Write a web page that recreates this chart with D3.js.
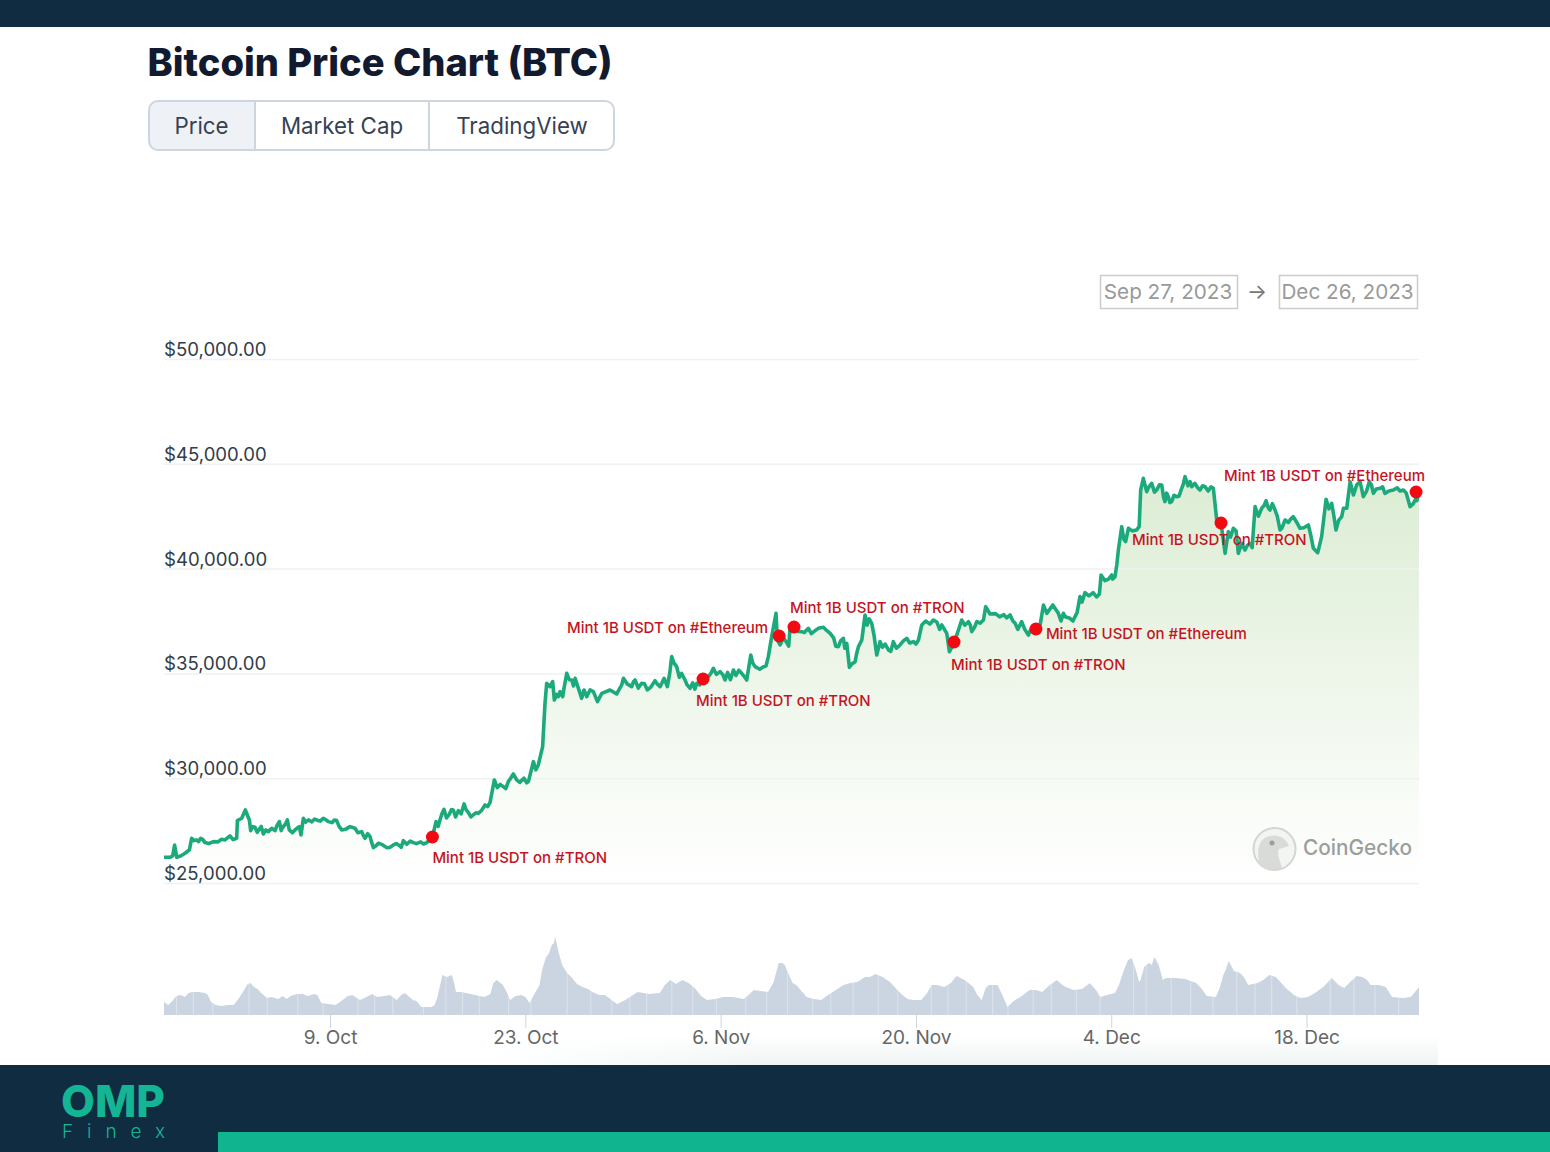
<!DOCTYPE html>
<html>
<head>
<meta charset="utf-8">
<title>Bitcoin Price Chart (BTC)</title>
<script src="https://cdn.jsdelivr.net/npm/d3@7"></script>
<style>
    html, body { margin: 0; padding: 0; background: #fff; overflow: hidden; }
    svg { display: block; }
    text { font-family: Inter, "Noto Sans", sans-serif; }
</style>
</head>
<body>
<div id="chart"></div>
<script>
// days since the left edge of the chart (27 Sep 2023, about 02:24 UTC)
const priceDays = [
    0, 0.43, 0.62, 0.76, 0.91, 1.19, 1.51, 1.82, 1.98, 2.34, 2.63, 2.94, 3.54, 4.13, 4.37, 4.73, 5.21, 5.26, 5.57, 5.83,
    6.12, 6.21, 6.52, 6.83, 7.12, 7.48, 7.72, 7.96, 8.27, 8.51, 8.84, 8.98, 9.39, 9.70, 9.82, 9.99, 10.35, 10.94, 11.42, 11.78,
    12.38, 12.74, 13.33, 13.69, 14.17, 14.41, 14.77, 15.01, 15.36, 15.96, 16.44, 16.92, 17.16, 17.87, 18.83, 19.24, 19.50, 19.78, 20.07, 20.45,
    20.74, 21.10, 21.51, 21.82, 22.17, 22.53, 23.01, 23.37, 23.68, 23.89, 24.32, 24.68, 25.04, 25.28, 26.12, 26.48, 26.83, 27.14, 27.31, 27.43,
    27.67, 27.86, 27.98, 28.27, 28.39, 28.58, 28.87, 29.23, 29.47, 29.94, 30.11, 30.30, 30.54, 30.78, 31.07, 31.38, 31.97, 32.45, 32.81, 32.93,
    33.53, 33.77, 34.24, 34.65, 35.20, 35.56, 35.85, 36.08, 36.39, 36.75, 36.94, 37.35, 37.71, 38.19, 38.62, 39.02, 39.38, 39.86, 40.22, 40.82,
    41.41, 41.77, 42.06, 42.37, 42.97, 43.32, 43.56, 43.87, 43.97, 44.16, 44.64, 44.88, 45.24, 45.71, 46.19, 46.67, 47.27, 47.75, 48.34, 48.70,
    48.94, 49.13, 49.54, 49.78, 50.02, 50.25, 50.73, 51.09, 51.33, 51.93, 52.28, 52.76, 53.24, 53.72, 54.08, 54.32, 55.15, 55.75, 56.11, 56.30,
    56.66, 57.18, 57.66, 57.90, 58.26, 58.74, 58.90, 59.21, 60.65, 61.01, 61.48, 61.96, 62.44, 62.80, 63.04, 63.28, 63.71, 64.11, 64.47, 64.94,
    65.30, 65.66, 66.02, 67.05, 67.17, 67.45, 67.93, 68.17, 68.41, 68.65, 68.93, 69.13, 69.72, 70.01, 70.20, 70.44, 70.80, 71.16, 71.52, 71.75,
    71.99, 72.23, 72.59, 72.95, 73.19, 73.67, 73.90, 74.26, 74.62, 75.22, 75.46, 75.77, 76.06, 76.29, 76.65, 77.01, 77.25, 77.49, 77.85, 78.21,
    78.68, 79.00, 79.28, 79.64, 80.00, 80.36, 80.95, 81.43, 82.03, 82.39, 82.70, 82.98, 83.30, 83.70, 84.01, 84.42, 84.54, 84.78, 85.02, 85.26,
    85.73, 85.97, 86.40, 86.69, 87.17, 87.52, 88.12, 88.84, 89.32, 89.80, 89.96
];
const priceValues = [
    26227, 26227, 26291, 26815, 26227, 26291, 26418, 26577, 27133, 27054, 27133, 26927, 26975, 27086, 27054, 27245, 27133, 27976, 28088, 28485,
    28008, 27499, 27658, 27563, 27340, 27451, 27610, 27499, 27928, 27658, 28008, 27531, 27531, 27690, 27292, 28088, 28008, 28008, 28088, 27928,
    27976, 27531, 27690, 27610, 27451, 27133, 27213, 26688, 26895, 26688, 26815, 26768, 27022, 26927, 26927, 27195, 27928, 28008, 28517, 28278,
    28485, 28453, 28771, 28358, 28246, 28326, 28723, 28835, 29916, 29550, 29598, 29837, 30202, 29916, 29837, 30791, 30632, 31506, 33573, 34527,
    34368, 34607, 33732, 33891, 34130, 33891, 35004, 34686, 34765, 33811, 34209, 33891, 34209, 34130, 33652, 34050, 34209, 34018, 34447, 34765,
    34368, 34686, 34527, 34209, 34654, 34368, 34765, 34368, 35799, 35322, 34813, 34686, 34289, 34527, 34733, 34845, 35243, 35084, 34686, 35163,
    35004, 34686, 35878, 35322, 35322, 35799, 36753, 37866, 36594, 36356, 36467, 37230, 37198, 36992, 37150, 37039, 37198, 36912, 36276, 36674,
    36435, 35290, 35560, 36276, 36594, 37787, 37389, 35878, 36515, 36117, 36515, 36356, 36674, 36515, 36594, 37310, 37548, 37310, 36912, 36038,
    36483, 37548, 37468, 36992, 37468, 37548, 38184, 37834, 37786, 37389, 37468, 36833, 37119, 37310, 38264, 37866, 38264, 37866, 37867, 37628,
    37708, 38662, 38853, 38789, 39695, 39425, 39695, 39616, 40888, 42001, 41285, 41921, 41842, 43750, 44307, 43670, 44068, 43750, 43989, 43194,
    43432, 43194, 43432, 43830, 44386, 43909, 44068, 43750, 43909, 43830, 42319, 42160, 40729, 41762, 41921, 40729, 41206, 40888, 41206, 42955,
    42876, 43241, 42796, 42796, 41842, 42319, 42478, 41921, 42080, 40967, 40761, 41524, 43305, 43114, 41842, 42478, 42876, 42876, 44147, 43512,
    44147, 43432, 44147, 43591, 43830, 43591, 43750, 43750, 42955, 43241, 43591
];

// second pass over the picture, the smaller wiggles between the points above
const priceDetailDays = [
    2.15, 2.48, 2.79, 3.2, 3.85, 4.55, 4.95, 6.36, 6.68, 6.97, 7.3, 8.1, 8.4, 8.7, 9.2, 9.55,
    10.15, 10.6, 10.8, 11.2, 11.6, 12.05, 12.2, 12.55, 13.0, 13.9, 14.3, 14.6, 14.9, 15.2, 15.65, 16.2, 16.65, 17.0, 17.4, 17.65, 18.1, 18.4, 18.6,
    19.65, 19.92, 20.25, 20.6, 20.9, 21.3, 21.65, 22.0, 22.35, 22.75, 23.2, 24.1, 24.5, 24.85, 25.5, 25.8, 26.0, 26.65,
    28.15, 28.7, 29.05, 29.35, 29.7, 33.2, 33.65, 34.0, 34.45, 34.9, 35.35, 35.7, 36.25, 36.55, 37.1, 37.5, 37.9, 38.05, 38.4,
    39.2, 39.6, 40.05, 40.4, 40.6, 41.0, 41.2, 41.6, 42.2, 42.7, 43.15, 44.4, 44.78, 45.45, 45.9, 46.4, 46.9, 47.5, 48.0, 48.15, 48.5, 48.8,
    49.3, 49.65, 50.4, 50.55, 50.9, 51.5, 51.7, 52.1, 52.5, 53.0, 53.45, 53.9, 54.6, 54.9, 55.4, 55.6,
    57.4, 57.8, 58.1, 58.5, 59.6, 59.9, 60.2, 60.4, 60.85, 61.2, 61.7, 62.1, 64.3, 64.6, 65.15, 65.45, 65.8, 66.3, 66.6, 66.85, 67.7, 68.0, 68.3, 68.8, 69.4, 69.9,
    70.6, 71.0, 71.35, 71.65, 71.87, 72.1, 72.4, 72.75, 73.05, 73.4, 73.55, 74.1, 74.45, 74.85, 75.05,
    76.45, 76.85, 77.15, 77.35, 77.65, 78.0, 78.45, 78.85, 79.15, 79.45, 79.8, 80.15, 80.6, 80.75, 81.2, 81.7, 82.2, 83.5, 83.85, 84.2,
    85.5, 85.85, 86.2, 86.55, 86.9, 87.35, 87.8, 88.4, 88.6, 89.05, 89.55, 89.7
];
const priceDetailValues = [
    27022, 26975, 27070, 26880, 26960, 27150, 27070, 27690, 27420, 27700, 27530, 27750, 27500, 27800, 27400, 27620,
    27900, 27920, 28050, 27950, 28020, 27880, 28000, 27700, 27560, 27400, 27250, 27350, 26900, 26780, 26830, 26700, 26880, 26700, 26850, 27000, 26880, 26960, 26860,
    27700, 28300, 28100, 28500, 28150, 28300, 28500, 28150, 28350, 28450, 28650, 29700, 29500, 30000, 29800, 30000, 29780, 30400,
    34000, 34400, 34700, 34400, 34300, 34500, 34600, 34300, 34500, 34350, 34500, 34550, 35000, 35500, 35000, 34450, 34550, 34250, 34450,
    35000, 34950, 34950, 35050, 34700, 34900, 35150, 34850, 35500, 35200, 35350, 36700, 36300, 37000, 36950, 36900, 37150, 37050, 36700, 36300, 36550, 36200,
    35450, 35950, 37300, 37600, 36800, 36250, 36400, 36050, 36200, 36550, 36450, 36400, 37500, 37350, 37450, 37100,
    37300, 37300, 37200, 37400, 37850, 37700, 37800, 37650, 37500, 37100, 37100, 37050, 37500, 37700, 37500, 37900, 38400, 38700, 38850, 38650, 39500, 39500, 40200, 41400, 41800, 42000,
    43900, 43650, 44000, 43400, 43600, 43150, 43500, 43450, 44000, 43950, 44150, 43850, 43950, 43700, 43900,
    41500, 41800, 41000, 41050, 41100, 41000, 42500, 43000, 42900, 43100, 42500, 41950, 42200, 42350, 42200, 41950, 41600, 42850, 42550, 42300,
    44000, 43800, 43700, 44000, 43800, 43900, 43700, 43850, 43700, 43600, 43100, 43300
];

const volumeDays = [
    0, 0.3, 0.88, 1.76, 2.05, 2.93, 3.37, 4.1, 5, 5.43, 6, 6.44, 6.97, 7.38, 8.2, 9.08, 9.95, 10.77, 11.27, 12.3,
    13.17, 14.05, 14.93, 15.8, 16.68, 17.27, 17.85, 18.44, 19.17, 19.6, 19.96, 20.63, 20.93, 21.65, 22.97, 23.85, 24.29, 24.81, 25.6, 26.2,
    26.92, 27.36, 27.8, 28.04, 28.54, 29.26, 29.99, 30.72, 31.6, 32.48, 33.07, 33.95, 35.55, 36.29, 37.16, 38.04, 38.92, 40.09, 41.55, 42.28,
    43.3, 44.06, 44.5, 45.06, 45.32, 46.06, 47.11, 48.16, 49.2, 50.25, 51, 52.04, 52.93, 53.68, 54.28, 55.03, 55.92, 56.82, 58.01, 58.61,
    59.15, 59.74, 60.46, 62.04, 62.94, 63.99, 65.18, 66.37, 67.12, 68.17, 68.76, 69.36, 69.9, 70.26, 71, 71.6, 72.5, 73.99, 74.74, 75.4,
    75.93, 76.32, 77.13, 77.72, 79.22, 80.41, 81.46, 82.5, 83.7, 84.6, 85.49, 86.24, 86.69, 87.58, 88.03, 89.37, 89.96,
    0.6, 1.2, 1.5, 2.5, 3.15, 3.7, 4.6, 5.7, 6.2, 6.7, 7.7, 8.5, 8.8, 9.5, 10.3, 11, 11.8, 12.8, 13.5, 14.5, 15.3, 16.2, 17, 18.1, 19.4,
    20.3, 20.8, 21.3, 22.3, 23.4, 23.6, 24.6, 25.2, 25.9, 26.5, 27.1, 27.6, 27.95, 28.3, 28.9, 29.6, 30.4, 31.2, 32, 33.5, 34.8, 35.9, 36.7, 37.6, 38.5,
    39.5, 40.8, 41.9, 42.8, 43.7, 44.3, 44.8, 46.6, 47.6, 48.7, 49.7, 50.6, 51.5, 52.5, 53.3, 54.7, 55.4, 56.4, 57.4, 58.3, 58.9, 59.4, 60.1, 60.9, 61.5,
    62.5, 63.5, 64.5, 65.8, 66.8, 67.6, 68.45, 69.1, 69.6, 70, 70.6, 70.8, 71.3, 71.8, 73.2, 74.4, 75.7, 76.1, 76.7, 77.4, 78.4, 78.8, 79.7, 81, 82, 83.1, 84.2, 85.1, 85.9, 86.5, 87.1, 88.8
];
const volumeValues = [
    13, 10, 19, 22, 23, 22, 13, 9, 10, 18, 31, 28, 22, 17, 16, 19, 21, 21, 12, 10,
    19, 15, 21, 19, 15, 22, 15, 8, 8, 18, 40, 40, 23, 22, 18, 35, 30, 15, 20, 12,
    30, 57, 70, 78, 50, 37, 28, 23, 20, 11, 15, 23, 22, 35, 35, 27, 15, 18, 16, 25,
    23, 52, 50, 32, 30, 18, 15, 25, 32, 38, 41, 33, 20, 15, 15, 30, 28, 39, 28, 15,
    30, 30, 8, 25, 23, 35, 25, 32, 18, 22, 43, 57, 33, 48, 58, 35, 37, 32, 19, 18,
    40, 54, 42, 30, 40, 27, 17, 22, 37, 27, 39, 35, 30, 28, 18, 18, 28,
    14, 20, 18, 23, 20, 10, 10, 24, 32, 26, 18, 19, 16, 21, 19, 20, 11, 15, 20, 18, 18, 20, 20, 14, 10,
    38, 32, 23, 20, 21, 32, 22, 19, 18, 20, 45, 62, 72, 62, 42, 31, 26, 20, 16, 19, 21, 30, 31, 32, 19,
    16, 18, 20, 24, 33, 52, 40, 16, 20, 30, 33, 38, 38, 26, 16, 22, 30, 32, 35, 20, 27, 30, 20, 14, 19,
    25, 30, 29, 26, 25, 20, 30, 55, 48, 35, 52, 50, 50, 37, 36, 26, 28, 45, 44, 38, 32, 35, 38, 20, 18, 28, 30, 34, 38, 30, 30, 17
];
// days where the volume columns show a thin pale gap
const volumeGapDays = [
    0.9, 2.1, 3.5, 6.1, 7.4, 9.6, 11.4, 13.9, 15.1, 16.4, 18.6, 20.2, 21.4, 22.6, 24.7, 26.3, 28.9, 30.6, 32.1, 33.4, 34.6, 36.4,
    37.9, 39.6, 41.7, 43.2, 44.7, 46.5, 47.8, 49.4, 51.2, 52.6, 55, 56.2, 57.5, 59.4, 60.5, 62.3, 63.6, 65.4, 67.1, 69.5, 70.4,
    72.2, 73.6, 75.2, 76.9, 78.2, 79.4, 81.2, 83.6, 85.3, 86.8, 88.5
];

const markerDays = [19.24, 38.64, 44.09, 45.16, 56.63, 62.5, 75.77, 89.75];
const markerPrices = [27195, 34733, 36784, 37214, 36498, 37119, 42176, 43655];
const markerLabels = [
    'Mint 1B USDT on #TRON', 'Mint 1B USDT on #TRON', 'Mint 1B USDT on #Ethereum', 'Mint 1B USDT on #TRON',
    'Mint 1B USDT on #TRON', 'Mint 1B USDT on #Ethereum', 'Mint 1B USDT on #TRON', 'Mint 1B USDT on #Ethereum'
];

const priceTicks = [25000, 30000, 35000, 40000, 45000, 50000];
const dateTicks = [[2023, 9, 9], [2023, 9, 23], [2023, 10, 6], [2023, 10, 20], [2023, 11, 4], [2023, 11, 18]];
const dateTickLabels = ['9. Oct', '23. Oct', '6. Nov', '20. Nov', '4. Dec', '18. Dec'];
const tabNames = ['Price', 'Market Cap', 'TradingView'];

const W = 1550, H = 1152;
const plotLeft = 164, plotRight = 1419;
const DAY = 86400000;
const startTime = Date.UTC(2023, 8, 27, 2, 24);
const toDate = d => new Date(startTime + d * DAY);

const svg = d3.select('#chart').append('svg').attr('width', W).attr('height', H);
const defs = svg.append('defs');

let areaGrad = defs.append('linearGradient').attr('id', 'areaGrad')
    .attr('gradientUnits', 'userSpaceOnUse')
    .attr('x1', 0).attr('y1', 480).attr('x2', 0).attr('y2', 883);
areaGrad.append('stop').attr('offset', 0).attr('stop-color', '#dcedd4');
areaGrad.append('stop').attr('offset', 0.5).attr('stop-color', '#eef6ea');
areaGrad.append('stop').attr('offset', 1).attr('stop-color', '#ffffff');

let shade = defs.append('linearGradient').attr('id', 'shade').attr('x1', 0).attr('y1', 0).attr('x2', 0).attr('y2', 1);
shade.append('stop').attr('offset', 0).attr('stop-color', '#ffffff');
shade.append('stop').attr('offset', 1).attr('stop-color', '#eef4f3');

let fade = defs.append('linearGradient').attr('id', 'fade');
fade.append('stop').attr('offset', 0).attr('stop-color', '#000');
fade.append('stop').attr('offset', 0.3).attr('stop-color', '#fff');
defs.append('mask').attr('id', 'fadeMask').attr('maskUnits', 'userSpaceOnUse')
    .attr('x', 480).attr('y', 1035).attr('width', 958).attr('height', 30)
    .append('rect').attr('x', 480).attr('y', 1035).attr('width', 958).attr('height', 30).attr('fill', 'url(#fade)');

svg.append('rect').attr('x', 0).attr('y', 0).attr('width', W).attr('height', H).attr('fill', '#fff');
svg.append('rect').attr('x', 480).attr('y', 1035).attr('width', 958).attr('height', 30)
    .attr('fill', 'url(#shade)').attr('mask', 'url(#fadeMask)');

// top and bottom bands
svg.append('rect').attr('x', 0).attr('y', 0).attr('width', W).attr('height', 27).attr('fill', '#102c40');
svg.append('rect').attr('x', 0).attr('y', 1065).attr('width', W).attr('height', 87).attr('fill', '#102c40');
svg.append('rect').attr('x', 218).attr('y', 1132).attr('width', W - 218).attr('height', 20).attr('fill', '#10b48f');
svg.append('text').attr('x', 61).attr('y', 1117).attr('textLength', 104).attr('lengthAdjust', 'spacingAndGlyphs')
    .attr('font-size', 44).attr('font-weight', 800).attr('fill', '#14b594').text('OMP');
svg.append('text').attr('x', 62).attr('y', 1138).attr('textLength', 103)
    .attr('font-size', 19).attr('font-weight', 300).attr('fill', '#14b594').text('Finex');

// title and tabs
svg.append('text').attr('x', 147.5).attr('y', 76).attr('font-size', 38.1).attr('font-weight', 800)
    .attr('fill', '#111a2e').text('Bitcoin Price Chart (BTC)');

const tabEdges = [148, 255, 429, 615];
svg.append('path')
    .attr('d', 'M255,101 H158 a9,9 0 0 0 -9,9 V141 a9,9 0 0 0 9,9 H255 Z')
    .attr('fill', '#eef2f6');
svg.append('rect').attr('x', 149).attr('y', 101).attr('width', 465).attr('height', 49).attr('rx', 9)
    .attr('fill', 'none').attr('stroke', '#cdd5df').attr('stroke-width', 2);
tabNames.forEach((name, i) => {
    if (i > 0) {
        svg.append('line').attr('x1', tabEdges[i]).attr('x2', tabEdges[i]).attr('y1', 101).attr('y2', 150)
            .attr('stroke', '#cdd5df').attr('stroke-width', 2);
    }
    svg.append('text').attr('x', (tabEdges[i] + tabEdges[i + 1]) / 2).attr('y', 134)
        .attr('text-anchor', 'middle').attr('font-size', 22.3).attr('fill', '#364152').text(name);
});

// date range boxes
[[1100, 137, 'Sep 27, 2023'], [1279, 138, 'Dec 26, 2023']].forEach(b => {
    svg.append('rect').attr('x', b[0] + 0.5).attr('y', 275.5).attr('width', b[1]).attr('height', 33)
        .attr('fill', '#fff').attr('stroke', '#cccccc').attr('stroke-width', 1.5);
    svg.append('text').attr('x', b[0] + b[1] / 2 - 0.5).attr('y', 299).attr('text-anchor', 'middle')
        .attr('font-size', 20.7).attr('fill', '#999999').text(b[2]);
});
svg.append('text').attr('x', 1257).attr('y', 299).attr('text-anchor', 'middle')
    .attr('font-size', 21).attr('fill', '#777777').text('→');

const x = d3.scaleUtc().domain([toDate(0), toDate(89.96)]).range([plotLeft, plotRight]);
const y = d3.scaleLinear().domain([25000, 50000]).range([883, 359]);
const yVol = d3.scaleLinear().domain([0, 78]).range([1015, 937]);

let priceData = priceDays.map((d, i) => ({ day: d, date: toDate(d), value: priceValues[i] }));
priceDetailDays.forEach((d, i) => priceData.push({ day: d, date: toDate(d), value: priceDetailValues[i] }));
priceData.sort((a, b) => a.day - b.day);

let volumeData = volumeDays.map((d, i) => ({ day: d, date: toDate(d), value: volumeValues[i] }));
volumeData.sort((a, b) => a.day - b.day);

// price gradient goes under the grid lines
svg.append('path').datum(priceData)
    .attr('d', d3.area().x(d => x(d.date)).y0(y(25000)).y1(d => y(d.value)))
    .attr('fill', 'url(#areaGrad)');

let yAxis = svg.append('g').attr('transform', `translate(${plotLeft},0)`)
    .call(d3.axisRight(y).tickValues(priceTicks).tickSize(plotRight - plotLeft).tickFormat(d3.format('$,.2f')));
yAxis.select('.domain').remove();
yAxis.selectAll('line').attr('stroke', '#eff2ef').attr('stroke-width', 1.5);
yAxis.selectAll('text').attr('x', 0).attr('dy', -3.5).attr('text-anchor', 'start')
    .attr('font-size', 18.6).attr('font-family', 'Inter').attr('fill', '#333d47');

svg.append('path').datum(priceData)
    .attr('d', d3.line().x(d => x(d.date)).y(d => y(d.value)))
    .attr('fill', 'none').attr('stroke', '#1caa7d').attr('stroke-width', 3.6).attr('stroke-linejoin', 'round');

// volume
svg.append('path').datum(volumeData)
    .attr('d', d3.area().x(d => x(d.date)).y0(yVol(0)).y1(d => yVol(d.value)))
    .attr('fill', '#cbd5e1');
svg.append('g').selectAll('line').data(volumeGapDays).join('line')
    .attr('x1', d => x(toDate(d))).attr('x2', d => x(toDate(d)))
    .attr('y1', yVol(0)).attr('y2', yVol(80))
    .attr('stroke', '#fff').attr('stroke-opacity', 0.35).attr('stroke-width', 1);

let xAxis = svg.append('g').attr('transform', 'translate(0,1015)')
    .call(d3.axisBottom(x)
        .tickValues(dateTicks.map(d => new Date(Date.UTC(d[0], d[1], d[2]))))
        .tickSize(13)
        .tickFormat((d, i) => dateTickLabels[i]));
xAxis.select('.domain').remove();
xAxis.selectAll('line').attr('stroke', '#ccd6e0').attr('stroke-width', 1);
xAxis.selectAll('text').attr('y', 16).attr('dy', '0.71em').attr('font-size', 19)
    .attr('font-family', 'Inter').attr('fill', '#666666');

// CoinGecko mark
svg.append('circle').attr('cx', 1274.5).attr('cy', 849).attr('r', 21)
    .attr('fill', '#f3f5f2').attr('stroke', '#d2d5d2').attr('stroke-width', 2);
svg.append('path')
    .attr('d', 'M1260,866 C1256,852 1258,838 1270,836 C1278,834 1286,838 1289,846 L1279,849 C1276,856 1281,862 1282,868 C1274,871 1266,870 1260,866 Z')
    .attr('fill', '#d9dbd8');
svg.append('circle').attr('cx', 1272).attr('cy', 843).attr('r', 2.5).attr('fill', '#9a9f9c');
svg.append('text').attr('x', 1303).attr('y', 855).attr('font-size', 20.8).attr('font-weight', 500).attr('fill', '#9a9f9c').text('CoinGecko');

// annotations, label offsets are relative to each marker
const labelDx = [0, -7, -11, -4, -3, 10, -89, -192];
const labelDy = [21, 22, -8, -19, 23, 5, 17, -16];
const labelAnchor = ['start', 'start', 'end', 'start', 'start', 'start', 'start', 'start'];

markerDays.forEach((d, i) => {
    let cx = x(toDate(d)), cy = y(markerPrices[i]);
    svg.append('circle').attr('cx', cx).attr('cy', cy).attr('r', 6.5).attr('fill', '#f00a12');
    svg.append('text').attr('x', cx + labelDx[i]).attr('y', cy + labelDy[i]).attr('dy', '0.35em')
        .attr('text-anchor', labelAnchor[i]).attr('font-size', 15).attr('font-weight', 500)
        .attr('fill', '#c4141f').text(markerLabels[i]);
});
</script>
</body>
</html>
